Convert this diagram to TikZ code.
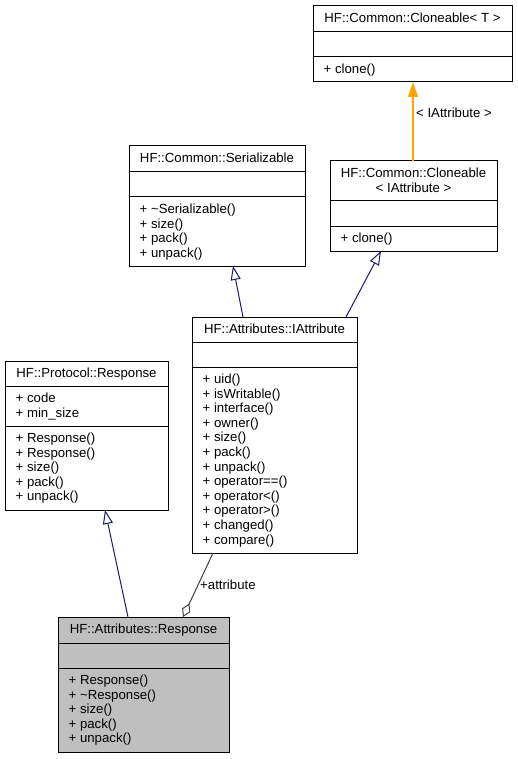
\documentclass[tikz,border=0pt]{standalone}
\usepackage{fontspec}
\setmainfont{Liberation Sans}
\usetikzlibrary{arrows.meta}
\definecolor{inheritline}{HTML}{191970}
\definecolor{templline}{HTML}{FFA500}
\definecolor{useline}{HTML}{404040}
\definecolor{focusfill}{HTML}{BFBFBF}
\begin{document}
\begin{tikzpicture}[x=1pt,y=1pt,
  every node/.style={font=\fontsize{13.2}{14.6}\selectfont, text=black},
  classbox/.style={draw=black, line width=1pt, fill=white, rectangle,
                   inner sep=0pt, outer sep=0pt, anchor=north west},
  sepline/.style={draw=black, line width=1pt},
  member/.style={inner sep=0pt, anchor=base west},
  classtitle/.style={inner sep=0pt, anchor=base},
  inherit/.style={draw=inheritline, line width=1pt,
                  -{Triangle[open, length=14pt, width=10pt, fill=white]}},
  templ/.style={draw=templline, line width=1.1pt,
                -{Triangle[length=15pt, width=10pt]}},
  usage/.style={draw=useline, line width=1pt,
                {Diamond[open, length=15pt, width=9pt, fill=white]}-},
  edgelabel/.style={inner sep=0pt, anchor=west}
]
\useasboundingbox (0,0) rectangle (518,-759);

% HF::Common::Cloneable< T >
\node[classbox, minimum width=199pt, minimum height=76pt] (ct) at (313,-6) {};
\draw[sepline] ([yshift=-26pt]ct.north west) -- ([yshift=-26pt]ct.north east);
\draw[sepline] ([yshift=-51pt]ct.north west) -- ([yshift=-51pt]ct.north east);
\node[classtitle] (ct-t) at (412.5,-22.5) {HF::Common::Cloneable< T >};
\node[member] (ct-m0) at (323.5,-73.5) {+ clone()};

% HF::Common::Cloneable< IAttribute >
\node[classbox, minimum width=167pt, minimum height=90pt] (ci) at (330,-161) {};
\draw[sepline] ([yshift=-40pt]ci.north west) -- ([yshift=-40pt]ci.north east);
\draw[sepline] ([yshift=-65pt]ci.north west) -- ([yshift=-65pt]ci.north east);
\node[classtitle] (ci-t1) at (413.5,-177.5) {HF::Common::Cloneable};
\node[classtitle] (ci-t2) at (413.5,-192.1) {< IAttribute >};
\node[member] (ci-m0) at (340.5,-242.5) {+ clone()};

% HF::Common::Serializable
\node[classbox, minimum width=176pt, minimum height=120pt] (ser) at (129,-146) {};
\draw[sepline] ([yshift=-26pt]ser.north west) -- ([yshift=-26pt]ser.north east);
\draw[sepline] ([yshift=-51pt]ser.north west) -- ([yshift=-51pt]ser.north east);
\node[classtitle] (ser-t) at (217,-162.5) {HF::Common::Serializable};
\foreach \t [count=\i from 0] in {+ \textasciitilde Serializable(), + size(), + pack(), + unpack()}
  \node[member] (ser-m\i) at (139.5,{-(213.5+\i*14.6)}) {\t};

% HF::Attributes::IAttribute
\node[classbox, minimum width=165pt, minimum height=236pt] (ia) at (192,-317) {};
\draw[sepline] ([yshift=-25pt]ia.north west) -- ([yshift=-25pt]ia.north east);
\draw[sepline] ([yshift=-50pt]ia.north west) -- ([yshift=-50pt]ia.north east);
\node[classtitle] (ia-t) at (274.5,-333.5) {HF::Attributes::IAttribute};
\foreach \t [count=\i from 0] in {+ uid(), + isWritable(), + interface(), + owner(),
    + size(), + pack(), + unpack(), + operator==(), + operator<(), + operator>(),
    + changed(), + compare()}
  \node[member] (ia-m\i) at (202.5,{-(383.5+\i*14.6)}) {\t};

% HF::Protocol::Response
\node[classbox, minimum width=163pt, minimum height=149pt] (pr) at (5,-361) {};
\draw[sepline] ([yshift=-25pt]pr.north west) -- ([yshift=-25pt]pr.north east);
\draw[sepline] ([yshift=-65pt]pr.north west) -- ([yshift=-65pt]pr.north east);
\node[classtitle] (pr-t) at (86.5,-377.5) {HF::Protocol::Response};
\foreach \t [count=\i from 0] in {+ code, + min\_size}
  \node[member] (pr-a\i) at (15.5,{-(402.5+\i*14.6)}) {\t};
\foreach \t [count=\i from 0] in {+ Response(), + Response(), + size(), + pack(), + unpack()}
  \node[member] (pr-m\i) at (15.5,{-(442.5+\i*14.6)}) {\t};

% HF::Attributes::Response
\node[classbox, fill=focusfill, minimum width=171pt, minimum height=135pt] (ar) at (58,-617) {};
\draw[sepline] ([yshift=-26pt]ar.north west) -- ([yshift=-26pt]ar.north east);
\draw[sepline] ([yshift=-51pt]ar.north west) -- ([yshift=-51pt]ar.north east);
\node[classtitle] (ar-t) at (143.5,-633.5) {HF::Attributes::Response};
\foreach \t [count=\i from 0] in {+ Response(), + \textasciitilde Response(), + size(), + pack(), + unpack()}
  \node[member] (ar-m\i) at (68.5,{-(684.5+\i*14.6)}) {\t};

% relations
\draw[templ] ([xshift=83pt]ci.north west) -- ([xshift=100pt]ct.south west);
\node[edgelabel] (tpl-lbl) at (416,-113) {< IAttribute >};

\draw[inherit] ([xshift=51pt]ia.north west) -- ([xshift=104pt]ser.south west);
\draw[inherit] ([xshift=154pt]ia.north west) -- ([xshift=51pt]ci.south west);
\draw[inherit] ([xshift=70pt]ar.north west) -- ([xshift=100pt]pr.south west);

\draw[usage] ([xshift=125pt]ar.north west) -- ([xshift=21pt]ia.south west);
\node[edgelabel] (use-lbl) at (200,-585) {+attribute};
\end{tikzpicture}
\end{document}
